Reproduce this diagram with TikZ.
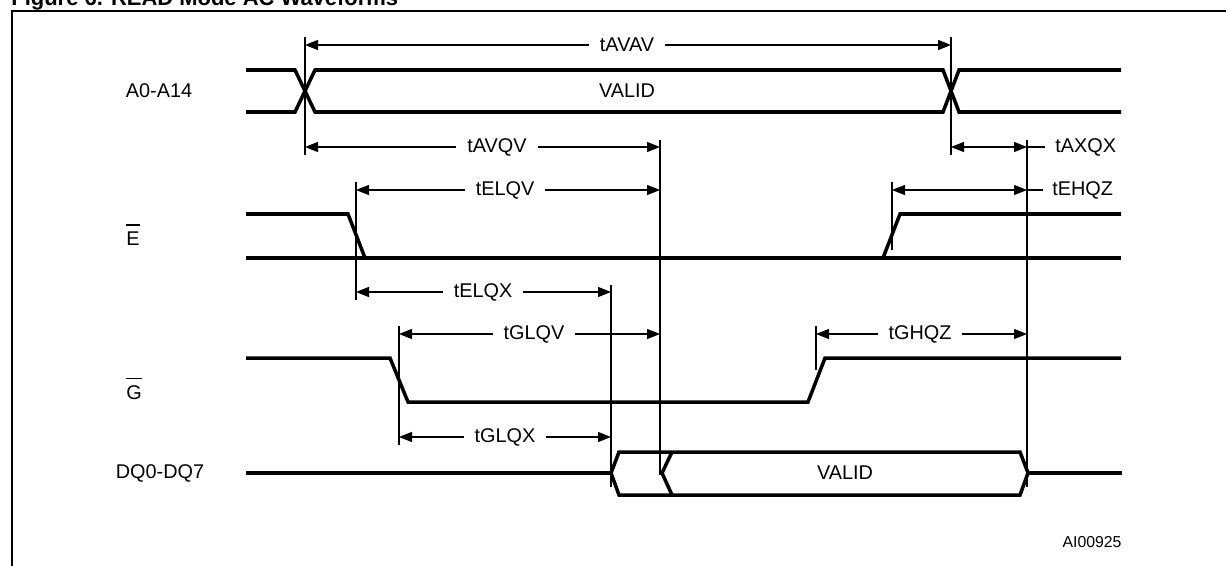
\documentclass[tikz,border=0pt]{standalone}
\usepackage{fontspec}
\setmainfont{Liberation Sans}
\usetikzlibrary{arrows.meta}
\newcommand{\barlet}[1]{\leavevmode\vbox{\hrule height 0.6pt\kern 3.6pt\hbox{#1}}}
\begin{document}
\begin{tikzpicture}[x=0.02cm,y=-0.02cm,
  sig/.style={line width=2pt, line join=miter},
  dim/.style={line width=0.7pt},
  ext/.style={line width=0.7pt},
  arr/.style={dim,{Triangle[length=0.26cm,width=0.2cm]}-{Triangle[length=0.26cm,width=0.2cm]}},
  lbl/.style={font=\fontsize{11.3}{13}\selectfont, inner sep=0pt},
  dlbl/.style={lbl, fill=white, inner xsep=0.22cm, inner ysep=2pt}]
\useasboundingbox (0,0) rectangle (1226,565);

% title and frame
\node[anchor=base west, font=\bfseries\fontsize{12.5}{14}\selectfont, inner sep=0pt] (title) at (11,5) {Figure 6. READ Mode AC Waveforms};
\draw[line width=1.1pt] (12,570) -- (12,11) -- (1230,11);

% signal names
\node[lbl] (nA) at (159,91) {A0-A14};
\node[lbl] (nE) at (133,235) {\barlet{E}};
\node[lbl] (nG) at (134,389) {\barlet{G}};
\node[lbl] (nDQ) at (160,473) {DQ0-DQ7};

% A0-A14
\draw[sig] (246,70) -- (295,70) -- (315,112) -- (943,112) -- (959,70) -- (1121,70);
\draw[sig] (246,112) -- (295,112) -- (315,70) -- (943,70) -- (959,112) -- (1121,112);
\node[lbl] (vA) at (627,91) {VALID};

% E
\draw[sig] (246,258) -- (1121,258);
\draw[sig] (246,214) -- (348,214) -- (365,258);
\draw[sig] (883,258) -- (900,214) -- (1121,214);

% G
\draw[sig] (246,358) -- (390,358) -- (408,402) -- (808,402) -- (825,358) -- (1121,358);

% DQ
\draw[sig] (246,473) -- (611,473);
\draw[sig] (611,473) -- (619,452) -- (1020,452) -- (1028,473) -- (1020,495) -- (619,495) -- cycle;
\draw[sig] (672,452) -- (662,473) -- (672,495);
\draw[sig] (1028,473) -- (1122,473);
\node[lbl] (vDQ) at (845,473) {VALID};

% extension lines
\coordinate (e1t) at (305,37);  \coordinate (e1b) at (305,155);
\coordinate (e2t) at (951,37);  \coordinate (e2b) at (951,155);
\coordinate (e3t) at (660,140); \coordinate (e3b) at (660,475);
\coordinate (e4t) at (1027,140);\coordinate (e4b) at (1027,487);
\coordinate (e5t) at (356,182); \coordinate (e5b) at (356,300);
\coordinate (e6t) at (892,182); \coordinate (e6b) at (892,250);
\coordinate (e7t) at (611,285); \coordinate (e7b) at (611,487);
\coordinate (e8t) at (399,326); \coordinate (e8b) at (399,445);
\coordinate (e9t) at (816,326); \coordinate (e9b) at (816,370);
\foreach \i in {1,...,9} {\draw[ext] (e\i t) -- (e\i b);}

% dimension arrows
\draw[arr] (e1t |- 0,45) -- (e2t |- 0,45);
\node[dlbl] (tAVAV) at (627,45) {tAVAV};

\draw[arr] (e1t |- 0,147) -- (e3t |- 0,147);
\node[dlbl] (tAVQV) at (497,147) {tAVQV};

\draw[arr] (e2t |- 0,147) -- (e4t |- 0,147);
\coordinate (cAX) at (1045,147);
\draw[dim] (e4t |- 0,147) -- (cAX);
\node[lbl, anchor=west] (tAXQX) at (1055,147) {tAXQX};

\draw[arr] (e5t |- 0,190) -- (e3t |- 0,190);
\node[dlbl] (tELQV) at (505,190) {tELQV};

\draw[arr] (e6t |- 0,190) -- (e4t |- 0,190);
\coordinate (cEH) at (1043,190);
\draw[dim] (e4t |- 0,190) -- (cEH);
\node[lbl, anchor=west] (tEHQZ) at (1052,190) {tEHQZ};

\draw[arr] (e5t |- 0,292) -- (e7t |- 0,292);
\node[dlbl] (tELQX) at (483,292) {tELQX};

\draw[arr] (e8t |- 0,334) -- (e3t |- 0,334);
\node[dlbl] (tGLQV) at (534,334) {tGLQV};

\draw[arr] (e9t |- 0,334) -- (e4t |- 0,334);
\node[dlbl] (tGHQZ) at (920,334) {tGHQZ};

\draw[arr] (e8t |- 0,437) -- (e7t |- 0,437);
\node[dlbl] (tGLQX) at (505,437) {tGLQX};

\node[font=\fontsize{9}{11}\selectfont, inner sep=0pt] (ai) at (1092,542) {AI00925};
\end{tikzpicture}
\end{document}
